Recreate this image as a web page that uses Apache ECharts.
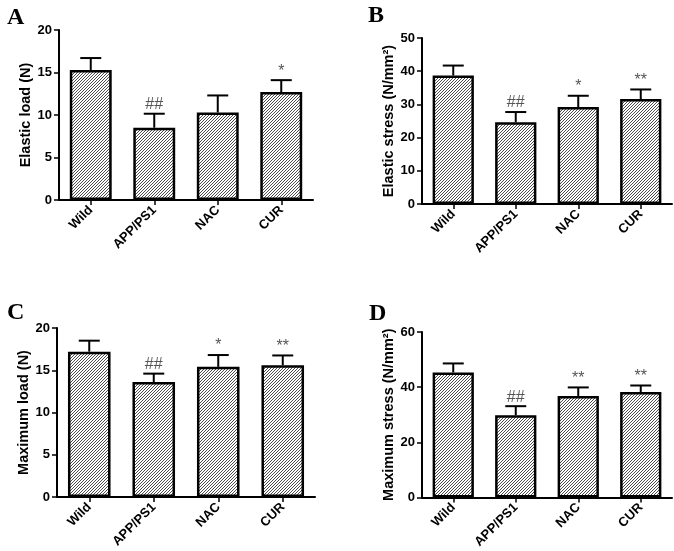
<!DOCTYPE html>
<html><head><meta charset="utf-8">
<script src="https://cdn.jsdelivr.net/npm/echarts@6/dist/echarts.min.js"></script>
<style>html,body{margin:0;padding:0;background:#fff}#c{width:674px;height:551px}</style>
</head><body><div id="c"></div>
<script>
const categories = ['Wild', 'APP/PS1', 'NAC', 'CUR'];

const elasticLoad = [15.3, 8.5, 10.3, 12.7];
const elasticLoadErr = [16.7, 10.15, 12.3, 14.1];
const elasticLoadMarks = ['', '##', '', '*'];

const elasticStress = [38.7, 24.6, 29.2, 31.6];
const elasticStressErr = [41.7, 27.7, 32.6, 34.5];
const elasticStressMarks = ['', '##', '*', '**'];

const maxLoad = [17.2, 13.6, 15.4, 15.6];
const maxLoadErr = [18.5, 14.6, 16.8, 16.75];
const maxLoadMarks = ['', '##', '*', '**'];

const maxStress = [45.3, 29.8, 36.8, 38.2];
const maxStressErr = [48.6, 33.1, 39.9, 40.6];
const maxStressMarks = ['', '##', '**', '**'];

const panelLetters = ['A', 'B', 'C', 'D'];
const yNames = ['Elastic load (N)', 'Elastic stress (N/mm²)', 'Maximum load (N)', 'Maximum stress (N/mm²)'];
const yMax = [20, 50, 20, 60];
const yInterval = [5, 10, 5, 20];

// hatch pattern
const pc = document.createElement('canvas');
pc.width = 3; pc.height = 3;
const px = pc.getContext('2d');
px.fillStyle = '#fff'; px.fillRect(0, 0, 3, 3);
px.strokeStyle = '#3a3a3a'; px.lineWidth = 0.9;
px.beginPath();
px.moveTo(-1, 4); px.lineTo(4, -1);
px.moveTo(-1, 1); px.lineTo(1, -1);
px.moveTo(2, 4); px.lineTo(4, 2);
px.stroke();

const grids = [
  {left: 59, top: 30, width: 254, height: 170},
  {left: 422, top: 38, width: 250, height: 166},
  {left: 57, top: 328, width: 258, height: 169},
  {left: 422, top: 332, width: 250, height: 166}
];
const letterPos = [[2, 1], [363, -1], [2, 296], [364, 297]];

const means = [elasticLoad, elasticStress, maxLoad, maxStress];
const errs = [elasticLoadErr, elasticStressErr, maxLoadErr, maxStressErr];
const marks = [elasticLoadMarks, elasticStressMarks, maxLoadMarks, maxStressMarks];

const xAxes = [], yAxes = [], series = [], titles = [];
for (let i = 0; i < 4; i++) {
  titles.push({text: panelLetters[i], left: letterPos[i][0], top: letterPos[i][1],
    textStyle: {fontFamily: 'Liberation Serif', fontWeight: 'bold', fontSize: 24, color: '#000'}});
  xAxes.push({type: 'category', gridIndex: i, data: categories,
    axisLine: {lineStyle: {color: '#000', width: 2}},
    axisTick: {show: true, alignWithLabel: true, length: 5, lineStyle: {color: '#000', width: 1.5}},
    axisLabel: {rotate: 45, color: '#000', fontFamily: 'Liberation Sans', fontWeight: 'bold', fontSize: 13, margin: 8}});
  yAxes.push({type: 'value', gridIndex: i, min: 0, max: yMax[i], interval: yInterval[i],
    name: yNames[i], nameLocation: 'middle', nameGap: 26,
    nameTextStyle: {color: '#000', fontFamily: 'Liberation Sans', fontWeight: 'bold', fontSize: 14.5},
    splitLine: {show: false},
    axisLine: {show: true, lineStyle: {color: '#000', width: 2}},
    axisTick: {show: true, length: 5, lineStyle: {color: '#000', width: 1.5}},
    axisLabel: {color: '#000', fontFamily: 'Liberation Sans', fontWeight: 'bold', fontSize: 13, margin: 7}});
  series.push({type: 'bar', xAxisIndex: i, yAxisIndex: i, data: means[i], barWidth: '66%',
    itemStyle: {color: {image: pc, repeat: 'repeat'}, borderColor: '#000', borderWidth: 2.5},
    z: 2, silent: true});
  const m = means[i], e = errs[i], mk = marks[i];
  series.push({type: 'custom', xAxisIndex: i, yAxisIndex: i, z: 1,
    data: categories.map((c, k) => [k, m[k], e[k]]),
    renderItem: function (params, api) {
      const k = api.value(0);
      const p0 = api.coord([k, api.value(1)]);
      const p1 = api.coord([k, api.value(2)]);
      const label = mk[params.dataIndex];
      const half = 10.5;
      return {type: 'group', children: [
        {type: 'line', shape: {x1: p0[0], y1: p0[1], x2: p1[0], y2: p1[1]}, style: {stroke: '#000', lineWidth: 2}},
        {type: 'line', shape: {x1: p1[0] - half, y1: p1[1], x2: p1[0] + half, y2: p1[1]}, style: {stroke: '#000', lineWidth: 2}},
        {type: 'text', style: {text: label, x: p1[0], y: p1[1] - 1, align: 'center', verticalAlign: 'bottom',
          fill: '#555', fontFamily: 'Liberation Sans', fontSize: 16}}
      ]};
    }});
}

const chart = echarts.init(document.getElementById('c'), null, {renderer: 'canvas'});
chart.setOption({
  animation: false,
  backgroundColor: '#fff',
  title: titles,
  grid: grids,
  xAxis: xAxes,
  yAxis: yAxes,
  series: series
});
</script></body></html>
